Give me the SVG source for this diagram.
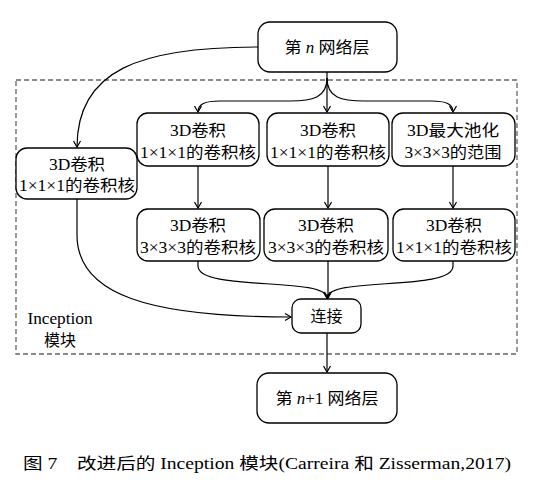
<svg xmlns="http://www.w3.org/2000/svg" width="535" height="483" viewBox="0 0 535 483">
<defs>
<style>
.box{fill:#fff;stroke:#000;stroke-width:1.3}
.t{font-family:"Liberation Serif","Noto Sans CJK SC",serif;font-size:16px;fill:#000;text-anchor:middle}
.c{fill:none;stroke:#000;stroke-width:1.2}
.dash{fill:none;stroke:#666;stroke-width:1.3;stroke-dasharray:5,3}
</style>
<marker id="ah" viewBox="-8 -5 10 10" markerWidth="10" markerHeight="10" refX="0" refY="0" orient="auto" markerUnits="userSpaceOnUse">
<path d="M-6,-3.5 L0,0 L-6,3.5" fill="none" stroke="#000" stroke-width="1.2"/>
</marker>
</defs>
<rect width="535" height="483" fill="#fff"/>
<rect class="dash" x="16" y="80" width="501" height="274"/>
<g id="connectors">
<path class="c" d="M327,72 V112" marker-end="url(#ah)"/>
<path class="c" d="M327,78 C327,98 312,101 290,101 H220 C205,101 198,104 198,112" marker-end="url(#ah)"/>
<path class="c" d="M327,78 C327,98 342,101 364,101 H431 C446,101 453,104 453,112" marker-end="url(#ah)"/>
<path class="c" d="M258,47 C140,47 77,70 77,147" marker-end="url(#ah)"/>
<path class="c" d="M198,166 V208" marker-end="url(#ah)"/>
<path class="c" d="M328,166 V208" marker-end="url(#ah)"/>
<path class="c" d="M453,166 V208" marker-end="url(#ah)"/>
<path class="c" d="M198,261 V266 C198,292 327,276 327,298" marker-end="url(#ah)"/>
<path class="c" d="M328,261 V298" marker-end="url(#ah)"/>
<path class="c" d="M453,261 V266 C453,292 327,276 327,298" marker-end="url(#ah)"/>
<path class="c" d="M77,199 V235 C77,295 150,317 291,317" marker-end="url(#ah)"/>
<path class="c" d="M327,333 V372" marker-end="url(#ah)"/>
</g>
<g id="top">
<rect class="box" x="258" y="22" width="139" height="50" rx="12"/>
<text class="t" x="327" y="53" textLength="85" lengthAdjust="spacingAndGlyphs">第 <tspan font-style="italic">n</tspan> 网络层</text>
</g>
<g id="left">
<rect class="box" x="16" y="148" width="121" height="51" rx="11"/>
<text class="t" x="77" y="170" textLength="56" lengthAdjust="spacingAndGlyphs">3D卷积</text>
<text class="t" x="77" y="191" textLength="116" lengthAdjust="spacingAndGlyphs">1×1×1的卷积核</text>
</g>
<g id="r1a">
<rect class="box" x="137" y="113" width="122" height="53" rx="11"/>
<text class="t" x="198" y="136" textLength="56" lengthAdjust="spacingAndGlyphs">3D卷积</text>
<text class="t" x="198" y="158" textLength="116" lengthAdjust="spacingAndGlyphs">1×1×1的卷积核</text>
</g>
<g id="r1b">
<rect class="box" x="267" y="113" width="122" height="53" rx="11"/>
<text class="t" x="328" y="136" textLength="56" lengthAdjust="spacingAndGlyphs">3D卷积</text>
<text class="t" x="328" y="158" textLength="116" lengthAdjust="spacingAndGlyphs">1×1×1的卷积核</text>
</g>
<g id="r1c">
<rect class="box" x="392" y="113" width="123" height="53" rx="11"/>
<text class="t" x="453" y="136" textLength="92" lengthAdjust="spacingAndGlyphs">3D最大池化</text>
<text class="t" x="453" y="158" textLength="97" lengthAdjust="spacingAndGlyphs">3×3×3的范围</text>
</g>
<g id="r2a">
<rect class="box" x="137" y="209" width="123" height="52" rx="11"/>
<text class="t" x="198" y="231" textLength="56" lengthAdjust="spacingAndGlyphs">3D卷积</text>
<text class="t" x="198" y="253" textLength="116" lengthAdjust="spacingAndGlyphs">3×3×3的卷积核</text>
</g>
<g id="r2b">
<rect class="box" x="264" y="209" width="124" height="52" rx="11"/>
<text class="t" x="326" y="231" textLength="56" lengthAdjust="spacingAndGlyphs">3D卷积</text>
<text class="t" x="326" y="253" textLength="116" lengthAdjust="spacingAndGlyphs">3×3×3的卷积核</text>
</g>
<g id="r2c">
<rect class="box" x="393" y="209" width="122" height="52" rx="11"/>
<text class="t" x="454" y="231" textLength="56" lengthAdjust="spacingAndGlyphs">3D卷积</text>
<text class="t" x="454" y="253" textLength="116" lengthAdjust="spacingAndGlyphs">1×1×1的卷积核</text>
</g>
<g id="concat">
<rect class="box" x="292" y="299" width="69" height="34" rx="9"/>
<text class="t" x="326.5" y="322">连接</text>
</g>
<g id="bottom">
<rect class="box" x="257" y="373" width="140" height="50" rx="12"/>
<text class="t" x="327" y="404" textLength="103" lengthAdjust="spacingAndGlyphs">第 <tspan font-style="italic">n</tspan>+1 网络层</text>
</g>
<g id="label">
<text class="t" x="60" y="324" textLength="65" lengthAdjust="spacingAndGlyphs">Inception</text>
<text class="t" x="60" y="346">模块</text>
</g>
<text class="t" x="267" y="469" font-size="15" textLength="488" lengthAdjust="spacingAndGlyphs">图 7　改进后的 Inception 模块(Carreira 和 Zisserman,2017)</text>
</svg>
